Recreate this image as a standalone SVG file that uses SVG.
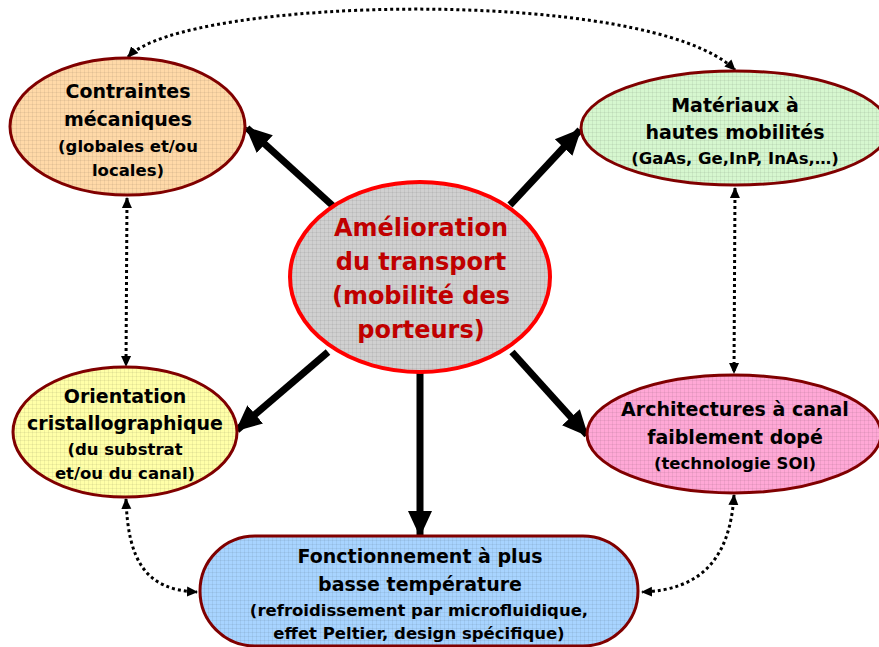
<svg xmlns="http://www.w3.org/2000/svg" width="879" height="647" viewBox="0 0 879 647">
<style>
.node{stroke:#800000;stroke-width:3}
.t{font-family:"DejaVu Sans","Liberation Sans",sans-serif;font-weight:bold;text-anchor:middle;fill:#000}
.h{font-size:19px}
.s{font-size:16.5px}
.c{font-size:24px;fill:#c00000}
.big{stroke:#000;stroke-width:7;fill:none;marker-end:url(#bigHead)}
.dot{stroke:#000;stroke-width:3;stroke-dasharray:3 3;fill:none;marker-start:url(#smallHead);marker-end:url(#smallHead)}
</style>
<defs>
<pattern id="grid" width="4" height="4" patternUnits="userSpaceOnUse">
<path d="M0,0.5H4M0.5,0V4" stroke="#000" stroke-opacity="0.06" stroke-width="1"/>
</pattern>
<marker id="bigHead" markerUnits="userSpaceOnUse" markerWidth="26" markerHeight="26" viewBox="0 0 26 26" refX="24" refY="13" orient="auto">
<path d="M0,1 L26,13 L0,25 Z" fill="#000"/>
</marker>
<marker id="smallHead" markerUnits="userSpaceOnUse" markerWidth="11" markerHeight="11" viewBox="0 0 11 11" refX="10" refY="5.5" orient="auto-start-reverse">
<path d="M0,0.5 L11,5.5 L0,10.5 Z" fill="#000"/>
</marker>
</defs>
<rect width="879" height="647" fill="#fff"/>

<g id="connectors">
<line class="big" x1="333" y1="206" x2="247" y2="128"/>
<line class="big" x1="510" y1="205" x2="580" y2="130"/>
<line class="big" x1="328" y1="352" x2="237" y2="430"/>
<line class="big" x1="512" y1="352" x2="587" y2="435"/>
<line class="big" x1="420" y1="370" x2="420" y2="535"/>
<path class="dot" d="M128,57 C185,-4 650,-14 735,70"/>
<path class="dot" d="M127,198 L126,366"/>
<path class="dot" d="M735,188 L734,373"/>
<path class="dot" d="M126,499 C128,560 145,590 197,592"/>
<path class="dot" d="M734,495 C730,560 700,590 642,592"/>
</g>

<g id="center">
<ellipse cx="420" cy="277" rx="130" ry="95" fill="#d0d0d0"/>
<ellipse cx="420" cy="277" rx="130" ry="95" fill="url(#grid)" stroke="#ff0000" stroke-width="4"/>
<text class="t c" x="421" y="236">Amélioration</text>
<text class="t c" x="421" y="270">du transport</text>
<text class="t c" x="421" y="304">(mobilité des</text>
<text class="t c" x="421" y="338">porteurs)</text>
</g>

<g id="contraintes">
<ellipse cx="127.5" cy="126.5" rx="117.5" ry="68.5" fill="#ffd9a8"/>
<ellipse class="node" cx="127.5" cy="126.5" rx="117.5" ry="68.5" fill="url(#grid)"/>
<text class="t h" x="128" y="98">Contraintes</text>
<text class="t h" x="128" y="126">mécaniques</text>
<text class="t s" x="128" y="152">(globales et/ou</text>
<text class="t s" x="128" y="176">locales)</text>
</g>

<g id="materiaux">
<ellipse cx="735" cy="128" rx="154" ry="57" fill="#d6f7cf"/>
<ellipse class="node" cx="735" cy="128" rx="154" ry="57" fill="url(#grid)"/>
<text class="t h" x="735" y="112">Matériaux à</text>
<text class="t h" x="735" y="139">hautes mobilités</text>
<text class="t s" x="735" y="164">(GaAs, Ge,InP, InAs,…)</text>
</g>

<g id="orientation">
<ellipse cx="125" cy="432" rx="112" ry="65" fill="#ffffa8"/>
<ellipse class="node" cx="125" cy="432" rx="112" ry="65" fill="url(#grid)"/>
<text class="t h" x="125" y="403">Orientation</text>
<text class="t h" x="125" y="430">cristallographique</text>
<text class="t s" x="125" y="455">(du substrat</text>
<text class="t s" x="125" y="479">et/ou du canal)</text>
</g>

<g id="architectures">
<ellipse cx="734" cy="434" rx="147" ry="59" fill="#ffa8d6"/>
<ellipse class="node" cx="734" cy="434" rx="147" ry="59" fill="url(#grid)"/>
<text class="t h" x="735" y="416">Architectures à canal</text>
<text class="t h" x="735" y="444">faiblement dopé</text>
<text class="t s" x="735" y="469">(technologie SOI)</text>
</g>

<g id="fonctionnement">
<rect x="200" y="536" width="438" height="110" rx="55" ry="55" fill="#a8d4ff"/>
<rect class="node" x="200" y="536" width="438" height="110" rx="55" ry="55" fill="url(#grid)"/>
<text class="t h" x="420" y="563">Fonctionnement à plus</text>
<text class="t h" x="420" y="591">basse température</text>
<text class="t s" x="419" y="616">(refroidissement par microfluidique,</text>
<text class="t s" x="419" y="639">effet Peltier, design spécifique)</text>
</g>
</svg>
